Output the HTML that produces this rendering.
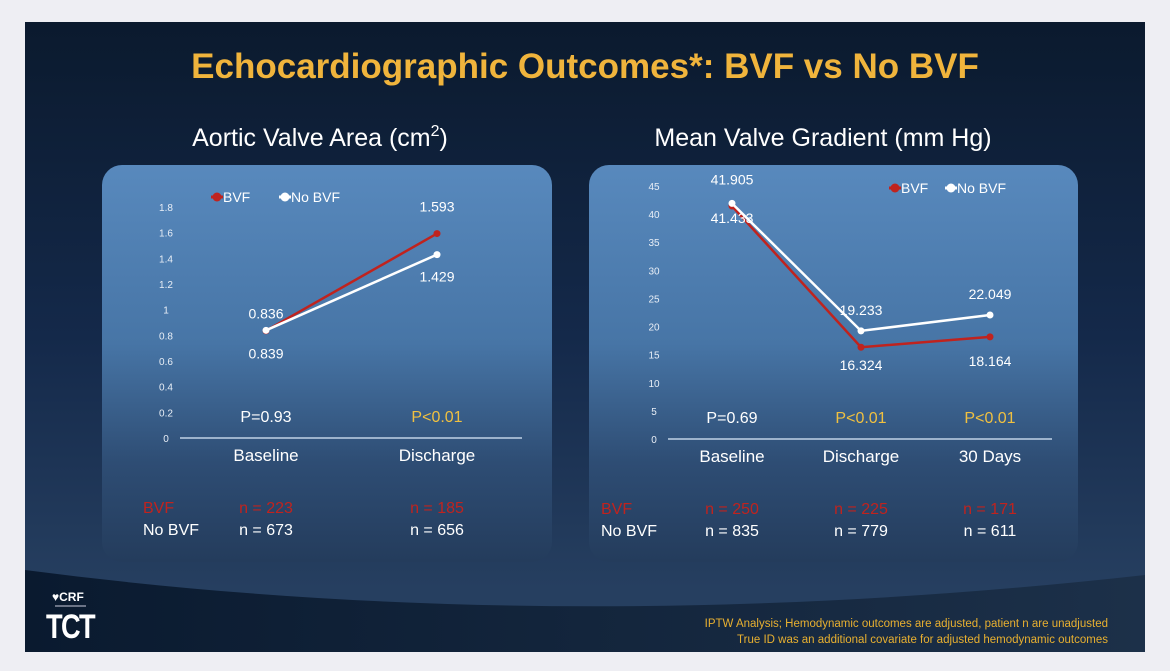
<!DOCTYPE html>
<html><head><meta charset="utf-8">
<style>
html,body{margin:0;padding:0;width:1170px;height:671px;overflow:hidden;background:#eeeef3;font-family:"Liberation Sans",sans-serif}
svg{display:block}
</style></head>
<body>
<svg width="1170" height="671" viewBox="0 0 1170 671" xmlns="http://www.w3.org/2000/svg">
<defs>
<linearGradient id="slideBg" x1="0" y1="0" x2="0" y2="1">
<stop offset="0" stop-color="#0b1a2e"/><stop offset="0.5" stop-color="#14294a"/><stop offset="0.9" stop-color="#263f60"/><stop offset="1" stop-color="#263f60"/>
</linearGradient>
<linearGradient id="panelBg" x1="0" y1="0" x2="0" y2="1">
<stop offset="0" stop-color="#5889bd"/><stop offset="0.45" stop-color="#4775a6"/><stop offset="0.75" stop-color="#2e4d74"/><stop offset="1" stop-color="#243c5c"/>
</linearGradient>
<linearGradient id="footBg" x1="0" y1="0" x2="1" y2="0">
<stop offset="0" stop-color="#0a1a2f"/><stop offset="1" stop-color="#1c3049"/>
</linearGradient>
</defs>
<rect x="25" y="22" width="1120" height="630" fill="url(#slideBg)"/>
<path d="M25 570 Q 560 640 1145 575 L1145 652 L25 652 Z" fill="url(#footBg)"/>
<text x="585" y="78" text-anchor="middle" font-size="35" font-weight="bold" fill="#f0b43c">Echocardiographic Outcomes*: BVF vs No BVF</text>
<text x="320" y="146" text-anchor="middle" font-size="25" fill="#ffffff">Aortic Valve Area (cm<tspan dy="-10" font-size="16">2</tspan><tspan dy="10">)</tspan></text>
<text x="823" y="146" text-anchor="middle" font-size="25" fill="#ffffff">Mean Valve Gradient (mm Hg)</text>
<rect x="102" y="165" width="450" height="397" rx="20" fill="url(#panelBg)"/>
<rect x="589" y="165" width="489" height="397" rx="20" fill="url(#panelBg)"/>
<g id="left"></g>
<g id="right"></g>
<text x="52" y="601" font-size="12" fill="#fff" font-weight="bold">♥CRF</text>
<line x1="55" y1="606" x2="86" y2="606" stroke="#ccd" stroke-width="1"/>
<text x="70" y="638" text-anchor="middle" font-size="34" font-weight="bold" fill="#fff" letter-spacing="-2" transform="translate(70 0) scale(0.8 1) translate(-70 0)">TCT</text>
<text x="1108" y="627" text-anchor="end" font-size="11.5" fill="#e8b030">IPTW Analysis; Hemodynamic outcomes are adjusted, patient n are unadjusted</text>
<text x="1108" y="643" text-anchor="end" font-size="11.5" fill="#e8b030">True ID was an additional covariate for adjusted hemodynamic outcomes</text>
</svg>
<script>
const avaCategories = ["Baseline","Discharge"];
const avaBVF = [0.836, 1.593];
const avaNoBVF = [0.839, 1.429];
const avaTicks = [0,0.2,0.4,0.6,0.8,1,1.2,1.4,1.6,1.8];
const avaP = ["P=0.93","P<0.01"];
const avaNBVF = ["n = 223","n = 185"];
const avaNNo = ["n = 673","n = 656"];

const mvgCategories = ["Baseline","Discharge","30 Days"];
const mvgBVF = [41.433, 16.324, 18.164];
const mvgNoBVF = [41.905, 19.233, 22.049];
const mvgTicks = [0,5,10,15,20,25,30,35,40,45];
const mvgP = ["P=0.69","P<0.01","P<0.01"];
const mvgNBVF = ["n = 250","n = 225","n = 171"];
const mvgNNo = ["n = 835","n = 779","n = 611"];

const NS="http://www.w3.org/2000/svg";
function mk(parent, tag, attrs, text){
  const e=document.createElementNS(NS,tag);
  for(const k in attrs) e.setAttribute(k,attrs[k]);
  if(text!==undefined) e.textContent=text;
  parent.appendChild(e); return e;
}
function fmt(v,d){return v.toFixed(d);}

function drawChart(g, cfg){
  const y = v => cfg.y0 - (v - 0)/(cfg.ymax) * (cfg.y0 - cfg.y1);
  const x = i => cfg.xs[i];
  cfg.ticks.forEach(t=>{
    const e=mk(g,'text',{x:cfg.tickX,y:y(t)+4,'text-anchor':'middle','font-size':10,fill:'#e8eef6'},String(t));
    
    
  });
  const ax=mk(g,'line',{x1:cfg.axX1,x2:cfg.axX2,y1:cfg.y0,y2:cfg.y0,stroke:'#9db3cc','stroke-width':2});
  
  
  cfg.cats.forEach((c,i)=>{
    const e=mk(g,'text',{x:x(i),y:cfg.y0+23,'text-anchor':'middle','font-size':17,fill:'#ffffff'},c);
    
    
    const p=mk(g,'text',{x:x(i),y:cfg.y0-16,'text-anchor':'middle','font-size':16,fill:i===0?'#ffffff':'#f0c040'},cfg.p[i]);
    
    
    const n1=mk(g,'text',{x:x(i),y:cfg.y0+75,'text-anchor':'middle','font-size':16,fill:'#c0231e'},cfg.nb[i]);
    
    
    const n2=mk(g,'text',{x:x(i),y:cfg.y0+97,'text-anchor':'middle','font-size':16,fill:'#ffffff'},cfg.nn[i]);
    
    
  });
  const r1=mk(g,'text',{x:cfg.rowX,y:cfg.y0+75,'font-size':16,fill:'#c0231e'},'BVF');
  
  
  const r2=mk(g,'text',{x:cfg.rowX,y:cfg.y0+97,'font-size':16,fill:'#ffffff'},'No BVF');
  
  
  [[cfg.bvf,'#c0231e','bvf'],[cfg.no,'#ffffff','no-bvf']].forEach(([vals,col,nm])=>{
    const pts=vals.map((v,i)=>x(i)+','+y(v)).join(' ');
    const l=mk(g,'polyline',{points:pts,fill:'none',stroke:col,'stroke-width':2.5});
    
    
    vals.forEach((v,i)=>{
      const c=mk(g,'circle',{cx:x(i),cy:y(v),r:3.5,fill:col});
      
      
    });
  });
  cfg.labels.forEach(([ser,i,dy])=>{
    const v=(ser==='b'?cfg.bvf:cfg.no)[i];
    const t=mk(g,'text',{x:x(i),y:y(v)+dy,'text-anchor':'middle','font-size':14,fill:'#ffffff'},fmt(v,3));
    
    
  });
  const lg=mk(g,'g',{});
  
  
  const L=cfg.legend;
  mk(lg,'line',{x1:L[0]-6,x2:L[0]+6,y1:L[1],y2:L[1],stroke:'#c0231e','stroke-width':3});
  mk(lg,'circle',{cx:L[0],cy:L[1],r:4.5,fill:'#c0231e'});
  const a=mk(lg,'text',{x:L[0]+6,y:L[1]+5,'font-size':14,fill:'#fff'},'BVF');
  
  
  mk(lg,'line',{x1:L[2]-6,x2:L[2]+6,y1:L[1],y2:L[1],stroke:'#fff','stroke-width':3});
  mk(lg,'circle',{cx:L[2],cy:L[1],r:4.5,fill:'#fff'});
  const b=mk(lg,'text',{x:L[2]+6,y:L[1]+5,'font-size':14,fill:'#fff'},'No BVF');
  
  
}

drawChart(document.getElementById('left'),{
  y0:438,y1:207,ymax:1.8,xs:[266,437],tickX:166,axX1:180,axX2:522,rowX:143,
  cats:avaCategories,bvf:avaBVF,no:avaNoBVF,ticks:avaTicks,p:avaP,nb:avaNBVF,nn:avaNNo,
  labels:[['b',0,-12],['n',0,28],['b',1,-22],['n',1,27]],legend:[217,197,285]
});
drawChart(document.getElementById('right'),{
  y0:439,y1:186,ymax:45,xs:[732,861,990],tickX:654,axX1:668,axX2:1052,rowX:601,
  cats:mvgCategories,bvf:mvgBVF,no:mvgNoBVF,ticks:mvgTicks,p:mvgP,nb:mvgNBVF,nn:mvgNNo,
  labels:[['n',0,-19],['b',0,17],['n',1,-16],['b',1,23],['n',2,-16],['b',2,29]],legend:[895,188,951]
});
</script>
</body></html>
